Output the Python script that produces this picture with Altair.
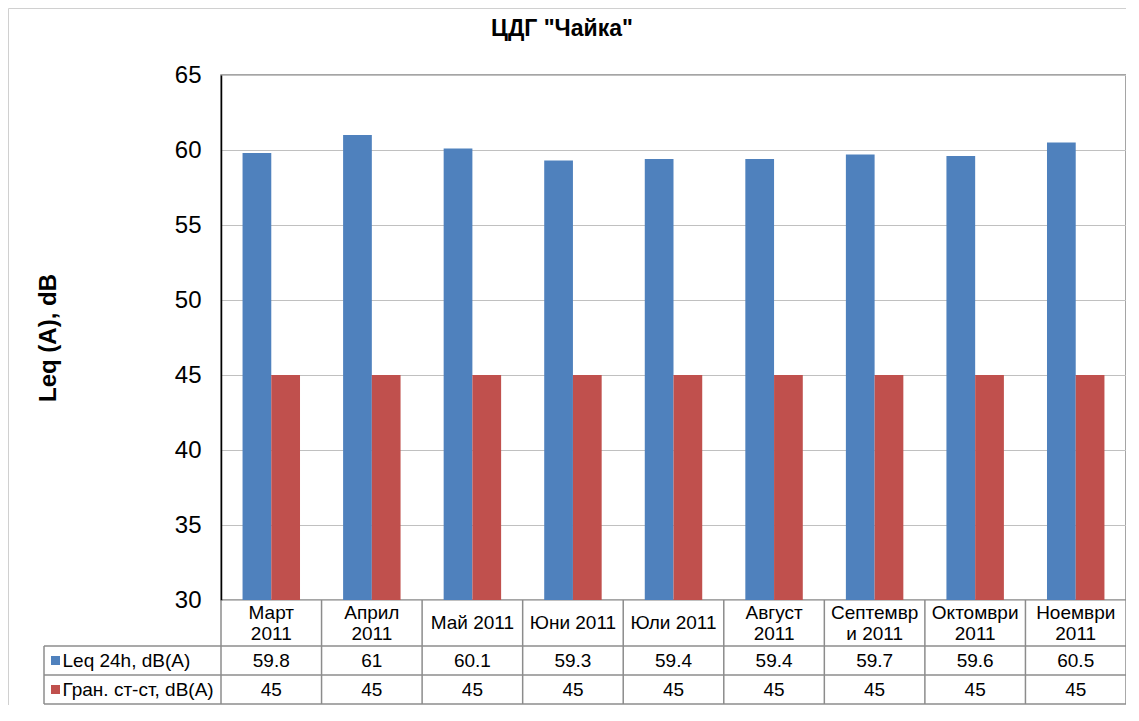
import altair as alt
import pandas as pd

# ---- data ----
categories = ["Март 2011", "Април 2011", "Май 2011", "Юни 2011", "Юли 2011",
              "Август 2011", "Септември 2011", "Октомври 2011", "Ноември 2011"]
cat_labels = ["Март\n2011", "Април\n2011", "Май 2011", "Юни 2011", "Юли 2011",
              "Август\n2011", "Септемвр\nи 2011", "Октомври\n2011", "Ноември\n2011"]
series_names = ["Leq 24h, dB(A)", "Гран. ст-ст, dB(A)"]
leq_values = [59.8, 61, 60.1, 59.3, 59.4, 59.4, 59.7, 59.6, 60.5]
limit_values = [45, 45, 45, 45, 45, 45, 45, 45, 45]
series_colors = ["#4f81bd", "#c0504d"]
y_ticks = [30, 35, 40, 45, 50, 55, 60, 65]
title_text = 'ЦДГ "Чайка"'
y_title = "Leq (A), dB"

rows = []
for c, v in zip(categories, leq_values):
    rows.append({"cat": c, "series": series_names[0], "value": v})
for c, v in zip(categories, limit_values):
    rows.append({"cat": c, "series": series_names[1], "value": v})
df = pd.DataFrame(rows)
cat_df = pd.DataFrame({"cat": categories, "label": cat_labels})
one = pd.DataFrame({"a": [0]})

# ---- layout ----
W, H = 905, 525
FONT = "Liberation Sans"
LINE = "#8c8c8c"
TFS = 19
LH = 21
header_y = 548
row_y = [585.5, 614.5]
row_lines = [571, 600, 629]
left_x = -177

xscale = alt.Scale(domain=categories, paddingInner=0, paddingOuter=0)
X = alt.X("cat:N", scale=xscale, axis=None)

bars = alt.Chart(df).mark_bar(clip=True).encode(
    x=X,
    xOffset=alt.XOffset("series:N", scale=alt.Scale(domain=series_names, paddingInner=0, paddingOuter=0.75)),
    y=alt.Y("value:Q",
            scale=alt.Scale(domain=[30, 65], nice=False, zero=False),
            axis=alt.Axis(values=y_ticks, title=y_title, ticks=False, labelPadding=20,
                          labelFontSize=24, labelFont=FONT, labelColor="black",
                          domainColor="black", domainWidth=1.5,
                          grid=True, gridColor="#c0c0c0", gridWidth=1,
                          titleFont=FONT, titleFontSize=24, titleFontWeight="bold",
                          titleColor="black", titleAngle=270, titleX=-173, titleY=H / 2,
                          titleAlign="center", titleBaseline="middle")),
    color=alt.Color("series:N", scale=alt.Scale(domain=series_names, range=series_colors), legend=None),
)

title = alt.Chart(one).mark_text(font=FONT, fontSize=23, fontWeight="bold", color="black",
                                 baseline="middle", text=title_text).encode(
    x=alt.value(341), y=alt.value(-46))

multi = "indexof(datum.label, '\\n') >= 0"
single = "indexof(datum.label, '\\n') < 0"

header2 = alt.Chart(cat_df).transform_filter(multi).mark_text(
    font=FONT, fontSize=TFS, lineBreak="\n", lineHeight=LH, baseline="middle", color="black").encode(
    x=X, y=alt.value(header_y - LH / 2), text="label:N")
header1 = alt.Chart(cat_df).transform_filter(single).mark_text(
    font=FONT, fontSize=TFS, baseline="middle", color="black").encode(
    x=X, y=alt.value(header_y), text="label:N")

layers = [bars, title, header1, header2]

for i, name in enumerate(series_names):
    layers.append(
        alt.Chart(df).transform_filter(alt.datum.series == name)
        .mark_text(font=FONT, fontSize=TFS, baseline="middle", color="black")
        .encode(x=X, y=alt.value(row_y[i]), text=alt.Text("value:Q"))
    )
    # legend swatch + label
    layers.append(
        alt.Chart(one).mark_rect(color=series_colors[i]).encode(
            x=alt.value(-170), x2=alt.value(-161),
            y=alt.value(row_y[i] - 4.5), y2=alt.value(row_y[i] + 4.5))
    )
    layers.append(
        alt.Chart(one).mark_text(font=FONT, fontSize=TFS, align="left", baseline="middle",
                                 color="black", text=name).encode(
            x=alt.value(-158.5), y=alt.value(row_y[i]))
    )

# table grid lines
for yy in row_lines:
    layers.append(alt.Chart(one).mark_rule(color=LINE, strokeWidth=1.5).encode(
        x=alt.value(left_x), x2=alt.value(W), y=alt.value(yy)))
layers.append(alt.Chart(one).mark_rule(color=LINE, strokeWidth=1.5).encode(
    x=alt.value(left_x), y=alt.value(row_lines[0]), y2=alt.value(row_lines[-1])))
layers.append(alt.Chart(cat_df).mark_rule(color=LINE, strokeWidth=1.5).encode(
    x=alt.X("cat:N", scale=xscale, axis=None, bandPosition=0),
    y=alt.value(H), y2=alt.value(row_lines[-1])))
layers.append(alt.Chart(cat_df).transform_filter(alt.datum.cat == categories[-1])
              .mark_rule(color=LINE, strokeWidth=1.5).encode(
    x=alt.X("cat:N", scale=xscale, axis=None, bandPosition=1),
    y=alt.value(H), y2=alt.value(row_lines[-1])))

# outer chart frame (top and left edges)
layers.append(alt.Chart(one).mark_rule(color="#d0d0d0", strokeWidth=1).encode(
    x=alt.value(-212.5), x2=alt.value(W + 5), y=alt.value(-66.5)))
layers.append(alt.Chart(one).mark_rule(color="#d0d0d0", strokeWidth=1).encode(
    x=alt.value(-212.5), y=alt.value(-66.5), y2=alt.value(H + 105)))

chart = alt.layer(*layers).properties(
    width=W, height=H,
    autosize=alt.AutoSizeParams(type="none"),
    padding={"left": 213, "top": 67, "right": 0, "bottom": 105},
).configure_view(stroke="#888888", strokeWidth=1.5)

chart.save("out.html", embed_options={"renderer": "svg", "actions": False})
